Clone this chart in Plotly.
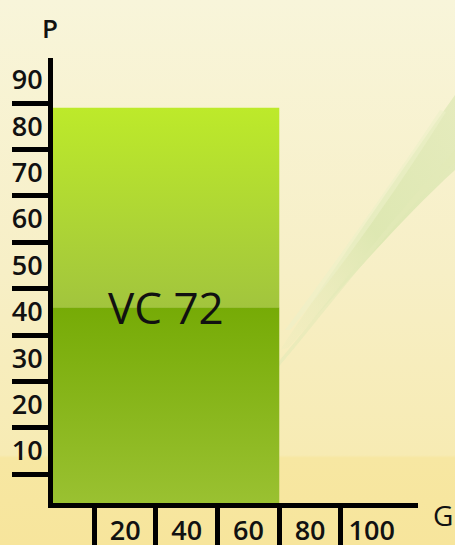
import plotly.graph_objects as go
import base64

# ---- data ----
categories = ["VC 72"]
bar_g_end = [70]          # right edge of the bar on the G axis
seg_lower_top = [41]      # top of the darker lower segment (P)
seg_upper_top = [84]      # top of the lighter upper segment (P)
y_label_vals = [10, 20, 30, 40, 50, 60, 70, 80, 90]
y_sep_vals = [5, 15, 25, 35, 45, 55, 65, 75, 85]
x_label_vals = [20, 40, 60, 80, 100]
x_sep_vals = [10, 30, 50, 70, 90]

W, H = 455, 545
ML, MR, MT, MB = 53, 37, 58, 42
XR = [-3.4, 115]
YR = [-1.2, 94.7]

FONT = "Open Sans"

# ---- background (decorative svg) ----
svg = f'''<svg xmlns="http://www.w3.org/2000/svg" width="{W}" height="{H}" viewBox="0 0 {W} {H}" preserveAspectRatio="none">
<defs>
<linearGradient id="bg" x1="0" y1="0" x2="0" y2="1">
<stop offset="0" stop-color="#f8f5da"/>
<stop offset="0.5" stop-color="#f7efc6"/>
<stop offset="0.835" stop-color="#f7ebb3"/>
<stop offset="0.84" stop-color="#f7e7a2"/>
<stop offset="1" stop-color="#f7e59c"/>
</linearGradient>
<linearGradient id="sw" x1="0" y1="1" x2="1" y2="0">
<stop offset="0" stop-color="#e6ebbc" stop-opacity="0.2"/>
<stop offset="0.5" stop-color="#d9e6ae" stop-opacity="0.85"/>
<stop offset="1" stop-color="#dde8b4" stop-opacity="0.7"/>
</linearGradient>
</defs>
<rect x="0" y="0" width="{W}" height="{H}" fill="url(#bg)"/>
<path d="M 280 350 C 320 290, 360 230, 455 95 L 455 170 C 400 220, 340 290, 288 348 Z" fill="url(#sw)"/>
<path d="M 270 372 C 330 300, 390 220, 455 150 L 455 162 C 390 225, 335 300, 276 370 Z" fill="#e2eab8" fill-opacity="0.6"/>
<path d="M 285 330 C 330 270, 380 200, 440 110 L 446 112 C 390 200, 340 270, 290 330 Z" fill="#edf0c8" fill-opacity="0.6"/>
</svg>'''
src = "data:image/svg+xml;base64," + base64.b64encode(svg.encode()).decode()

pw = W - ML - MR
ph = H - MT - MB

fig = go.Figure()

# ---- bar segments ----
x0 = XR[0]
for i, cat in enumerate(categories):
    xe = bar_g_end[i]
    lo = seg_lower_top[i]
    hi = seg_upper_top[i]
    fig.add_trace(go.Scatter(
        x=[x0, xe, xe, x0, x0], y=[YR[0], YR[0], lo, lo, YR[0]],
        mode="lines", line=dict(width=0), fill="toself",
        fillgradient=dict(type="vertical",
                          colorscale=[[0, "#9ac131"], [1, "#76ab06"]]),
        hoverinfo="skip", showlegend=False))
    fig.add_trace(go.Scatter(
        x=[x0, xe, xe, x0, x0], y=[lo, lo, hi, hi, lo],
        mode="lines", line=dict(width=0), fill="toself",
        fillgradient=dict(type="vertical",
                          colorscale=[[0, "#a2c53d"], [1, "#bdea2a"]]),
        hoverinfo="skip", showlegend=False))
    fig.add_annotation(x=(x0 + xe) / 2, y=lo, text=cat, showarrow=False,
                       xanchor="center", yanchor="middle",
                       font=dict(family=FONT, size=44, color="#111111"))

fig.add_annotation(xref="paper", yref="paper", x=-3 / pw, y=(H - MB - 28) / ph,
                   text="P", showarrow=False, xanchor="center", yanchor="middle",
                   font=dict(family=FONT, size=26, color="#111111", weight=600))
fig.add_annotation(xref="paper", yref="paper", x=(443 - ML) / pw, y=(H - MB - 515) / ph,
                   text="G", showarrow=False, xanchor="center", yanchor="middle",
                   font=dict(family=FONT, size=28, color="#111111"))

fig.update_layout(
    width=W, height=H,
    margin=dict(l=ML, r=MR, t=MT, b=MB),
    paper_bgcolor="#f8f2d0", plot_bgcolor="rgba(0,0,0,0)",
    showlegend=False,
    images=[dict(source=src, xref="paper", yref="paper",
                 x=-ML / pw, y=1 + MT / ph, sizex=W / pw, sizey=H / ph,
                 xanchor="left", yanchor="top", sizing="stretch", layer="below")],
    xaxis=dict(range=XR, showgrid=False, zeroline=False, automargin=False,
               showline=True, linecolor="#000000", linewidth=5,
               tickmode="array", tickvals=x_label_vals,
               ticktext=[str(v) for v in x_label_vals],
               ticks="", ticklen=0, ticklabelstandoff=0,
               tickfont=dict(family=FONT, size=27, color="#111111", weight=600),
               minor=dict(tickmode="array", tickvals=x_sep_vals, ticks="outside",
                          ticklen=40, tickwidth=5, tickcolor="#000000", showgrid=False),
               fixedrange=True),
    yaxis=dict(range=YR, showgrid=False, zeroline=False, automargin=False,
               showline=True, linecolor="#000000", linewidth=5,
               tickmode="array", tickvals=y_label_vals,
               ticktext=[str(v) for v in y_label_vals],
               ticks="", ticklen=0,
               tickfont=dict(family=FONT, size=27, color="#111111", weight=600),
               minor=dict(tickmode="array", tickvals=y_sep_vals, ticks="outside",
                          ticklen=36, tickwidth=5, tickcolor="#000000", showgrid=False),
               fixedrange=True),
)

fig.write_html("out.html", config={"displayModeBar": False},
               post_script="document.body.style.margin='0px';document.body.style.overflow='hidden';")
